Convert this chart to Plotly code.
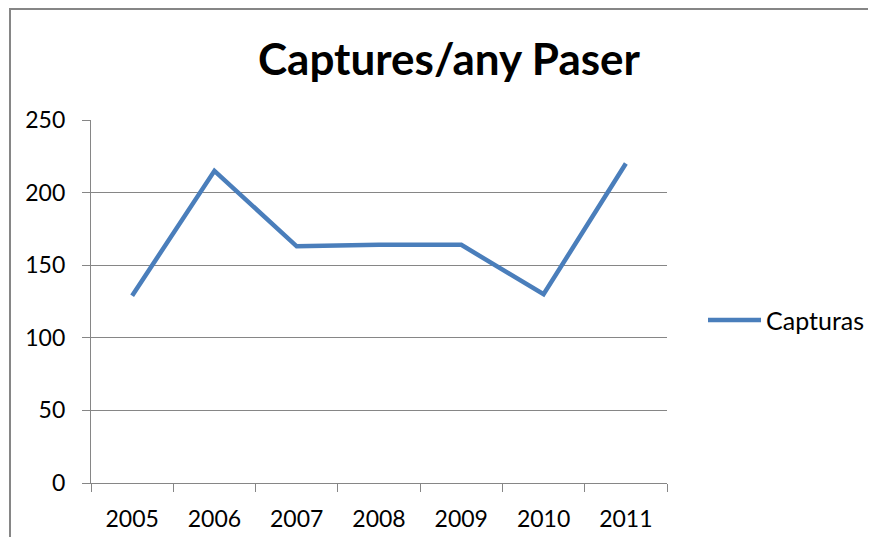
import plotly.graph_objects as go

years = ["2005", "2006", "2007", "2008", "2009", "2010", "2011"]
capturas = [129, 215, 163, 164, 164, 130, 220]
y_ticks = [0, 50, 100, 150, 200, 250]

# page body has an 8px margin, so the figure origin sits at (8, 8)
OFF = 8
W, H = 876, 545
L, R, T, B = 91, 209, 120, 62  # target plot-area edges in window pixels
pw, ph = W - L - R, H - T - B

def px(x):
    return (x - L) / pw

def py(y):
    return (H - B - y) / ph

fig = go.Figure()
fig.add_trace(go.Scatter(
    x=years, y=capturas, mode="lines", name="Capturas",
    line=dict(color="#4a7ebb", width=4.5), showlegend=False,
))

grey = "#868686"
FW, FH = W - 2 * OFF, H - 2 * OFF
border_path = (f"M {px(10):.5f},{py(H - OFF):.5f} "
               f"L {px(10):.5f},{py(9):.5f} "
               f"L {px(W - OFF):.5f},{py(9):.5f}")

fig.update_layout(
    width=FW, height=FH,
    margin=dict(l=L - OFF, r=R - OFF, t=T - OFF, b=B - OFF, autoexpand=False),
    paper_bgcolor="white", plot_bgcolor="white",
    font=dict(family="Lato, sans-serif", size=23, color="black"),
    title=dict(text="<b>Captures/any Paser</b>", x=(449 - OFF) / FW,
               xanchor="center", y=1 - (60 - OFF) / FH, yanchor="middle",
               font=dict(family="Lato, sans-serif", size=44, color="black")),
    showlegend=False,
    xaxis=dict(type="category", tickson="boundaries", showgrid=False,
               showline=True, linecolor=grey, linewidth=1.3,
               ticks="outside", ticklen=8, tickcolor=grey, tickwidth=1.3,
               ticklabelstandoff=15, automargin=False,
               range=[-0.5, 6.5], fixedrange=True),
    yaxis=dict(range=[0, 250], tickvals=y_ticks, showgrid=True,
               gridcolor=grey, gridwidth=1.3, zeroline=False,
               showline=True, linecolor=grey, linewidth=1.3,
               ticks="outside", ticklen=8, tickcolor=grey, tickwidth=1.3,
               ticklabelstandoff=12, automargin=False, fixedrange=True),
    shapes=[
        dict(type="path", xref="paper", yref="paper", path=border_path,
             line=dict(color=grey, width=2), fillcolor="rgba(0,0,0,0)"),
        dict(type="line", xref="paper", yref="paper",
             x0=px(708), x1=px(761), y0=py(320), y1=py(320),
             line=dict(color="#4a7ebb", width=4.5)),
    ],
    annotations=[
        dict(text="Capturas", xref="paper", yref="paper", x=px(764), y=py(320),
             xanchor="left", yanchor="middle", showarrow=False,
             font=dict(size=25, color="black")),
    ],
)

fig.write_html("out.html")
